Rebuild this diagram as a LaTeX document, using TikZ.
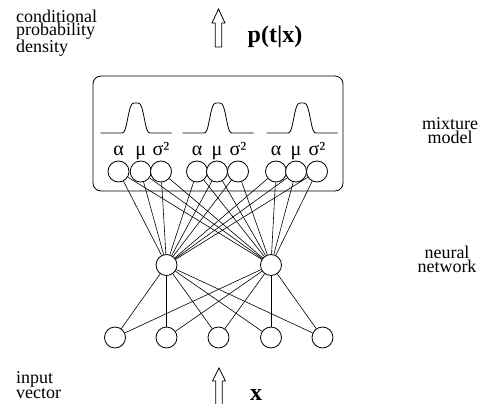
\documentclass[tikz,border=0pt]{standalone}
\usepackage{fontspec}
\setmainfont{Liberation Serif}
\usetikzlibrary{calc}
\tikzset{
  unit/.style={circle, draw, line width=0.8pt, minimum size=21pt, inner sep=0pt, fill=white},
  link/.style={draw, line width=0.6pt},
  frame/.style={draw, line width=0.8pt, rounded corners=8pt},
  curve/.style={draw, line width=0.8pt, line join=round},
  hollow/.style={draw, line width=0.8pt, line join=miter},
  lab/.style={font=\fontsize{18}{13.5}\selectfont, inner sep=0pt},
  greek/.style={font=\fontsize{20}{20}\selectfont, inner sep=0pt, anchor=base},
  big/.style={font=\fontsize{24}{24}\selectfont\bfseries, inner sep=0pt, anchor=base},
}

\begin{document}
\begin{tikzpicture}[x=1pt, y=-1pt]
  \useasboundingbox (0,0) rectangle (482,404);
  % mixture model box
  \draw[frame] (93,76) rectangle (343,191);
  % kernels
  \foreach \c in {136,218,302}
    \draw[curve] plot[domain=-35.5:35.5, samples=143, smooth]
      ({\c+\x},{133-30*exp(max(-20,-((\x/9)*(\x/9))*((\x/9)*(\x/9))))});
  % network units
  \foreach \x [count=\i] in {118.5,140.7,161,197,217,238,276,296,317}
    \node[unit] (o\i) at (\x,171.5) {};
  \node[unit] (h1) at (166.5,265) {};
  \node[unit] (h2) at (271,265) {};
  \foreach \x [count=\i] in {115,166.5,218.5,271,322.5}
    \node[unit] (in\i) at (\x,337.5) {};
  \foreach \i in {1,...,9}
    \foreach \j in {1,2}
      \draw[link] (o\i) -- (h\j);
  \foreach \i in {1,...,5}
    \foreach \j in {1,2}
      \draw[link] (in\i) -- (h\j);
  % parameter labels
  \foreach \x/\t [count=\i] in {118.5/α,140.7/μ,161/σ²,197/α,217/μ,238/σ²,276/α,296/μ,317/σ²}
    \node[greek] (par\i) at (\x,155) {\t};
  % hollow arrows
  \draw[hollow] (215.2,47) -- (215.2,23) -- (212,23) -- (218.5,9) -- (225,23)
    -- (221.8,23) -- (221.8,47) -- cycle;
  \draw[hollow] (215.8,404) -- (215.8,381) -- (212.5,381) -- (219,368)
    -- (225.5,381) -- (222.2,381) -- (222.2,404);
  % texts (base anchor sits on the last line)
  \node[big] (out) at (275,43) {p(t|x)};
  \node[big] (inp) at (256,400) {x};
  \node[lab, align=left, anchor=base west] (cpd) at (16,53) {conditional\\probability\\density};
  \node[lab, align=center, anchor=base] (mix) at (450,143) {mixture\\model};
  \node[lab, align=center, anchor=base] (net) at (447,272) {neural\\network};
  \node[lab, align=left, anchor=base west] (vec) at (16,398) {input\\vector};
\end{tikzpicture}
\end{document}
